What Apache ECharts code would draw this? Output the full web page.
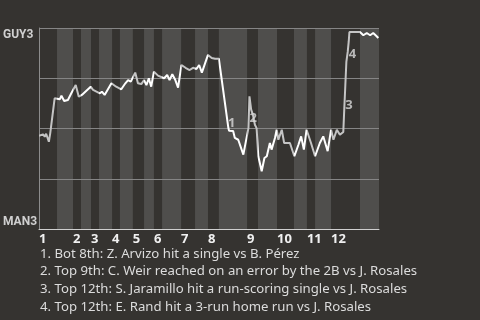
<!DOCTYPE html>
<html>
<head>
<meta charset="utf-8">
<script src="https://cdn.jsdelivr.net/npm/echarts@6/dist/echarts.min.js"></script>
<style>html,body{margin:0;padding:0;background:#353330;}#c{width:480px;height:320px;}</style>
</head>
<body>
<div id="c"></div>
<script>
// Team labels
const teamTop = 'GUY3';
const teamBottom = 'MAN3';
// Inning labels and half-inning boundaries (game progress, 0..100)
const innings = ['1','2','3','4','5','6','7','8','9','10','11','12'];
const topStart = [0, 10.0, 15.3, 21.5, 27.6, 33.8, 41.8, 49.7, 61.2, 70.0, 78.8, 85.9];
const botStart = [5.3, 12.35, 17.65, 23.8, 30.9, 36.2, 45.9, 52.9, 64.4, 75.0, 81.2, 94.4];
const gameEnd = 100;
// Win probability (% toward GUY3) by game progress
const wpX = [0, 1.2, 1.7, 2.1, 2.9, 3.3, 4.6, 5.1, 6.1, 6.6, 7.4, 8.5, 9.5, 10.8, 11.7, 12.6, 15.2, 15.9, 17.9, 18.5, 19.3, 21.3, 22.7, 24.2, 25.4, 26.2, 27.0, 28.3, 29.1, 30.1, 30.9, 31.6, 32.3, 33.0, 33.8, 35.0, 36.8, 37.7, 38.4, 39.2, 40.1, 40.9, 41.9, 43.1, 44.3, 45.3, 46.3, 47.1, 47.9, 49.7, 50.8, 51.8, 52.9, 53.2, 55.7, 55.9, 57.1, 57.6, 58.6, 60.1, 60.6, 61.6, 61.9, 62.4, 62.9, 63.5, 64.0, 64.5, 65.5, 66.3, 67.0, 67.9, 68.4, 69.4, 69.9, 70.4, 71.4, 72.1, 73.8, 75.1, 76.3, 77.1, 77.9, 78.7, 80.0, 81.2, 82.6, 83.6, 84.9, 85.9, 86.6, 87.6, 88.5, 89.5, 89.8, 90.1, 90.4, 90.8, 91.1, 91.3, 94.4, 95.4, 96.4, 97.4, 98.3, 99.3, 99.8];
const wpY = [46.4, 47.1, 45.9, 47.4, 43.4, 47.6, 65.0, 65.3, 64.5, 66.3, 63.7, 64.2, 67.5, 71.6, 65.8, 66.7, 70.8, 69.2, 67.5, 68.3, 66.7, 72.5, 70.8, 69.5, 72.5, 74.1, 73.3, 77.8, 72.5, 72.1, 74.1, 71.6, 75.0, 70.8, 78.3, 76.3, 75.0, 76.6, 74.1, 77.0, 74.1, 70.3, 81.6, 80.2, 79.1, 80.2, 79.6, 81.6, 77.8, 86.6, 85.1, 84.7, 84.7, 83.9, 50.2, 48.9, 48.8, 45.3, 44.4, 37.0, 37.0, 50.2, 66.0, 59.4, 56.9, 51.9, 50.2, 36.2, 28.7, 35.3, 36.2, 42.8, 39.5, 45.3, 49.4, 44.4, 49.4, 42.8, 42.8, 36.2, 41.9, 46.1, 39.5, 49.4, 42.8, 36.2, 42.8, 46.1, 38.7, 49.4, 44.4, 49.4, 46.9, 48.3, 60.2, 71.6, 83.1, 88.1, 93.3, 98.0, 98.0, 96.4, 97.5, 96.4, 97.5, 95.9, 95.0];
// Key events
const eventTags = ['1', '2', '3', '4'];
const eventX = [56.7, 63.0, 91.2, 92.2];
const eventY = [52.7, 54.9, 61.5, 86.8];
const notes = [
  '1. Bot 8th: Z. Arvizo hit a single vs B. Pérez',
  '2. Top 9th: C. Weir reached on an error by the 2B vs J. Rosales',
  '3. Top 12th: S. Jaramillo hit a run-scoring single vs J. Rosales',
  '4. Top 12th: E. Rand hit a 3-run home run vs J. Rosales'
];

const FONT = 'Noto Sans';
const LABEL_FONT = 'Roboto';
const bands = botStart.map((b, i) => [b, i + 1 < topStart.length ? topStart[i + 1] : gameEnd]);
const pieces = [];
topStart.forEach((t, i) => {
  pieces.push({ gte: t, lt: botStart[i], color: '#c4c4c4' });
  pieces.push({ gte: botStart[i], lte: i + 1 < topStart.length ? topStart[i + 1] : gameEnd + 1, color: '#ffffff' });
});

const chart = echarts.init(document.getElementById('c'), null, { renderer: 'canvas' });
chart.setOption({
  animation: false,
  backgroundColor: '#353330',
  textStyle: { fontFamily: FONT },
  title: {
    text: notes.join('\n'),
    left: 40, top: 245, padding: 0,
    textStyle: { color: '#dcdcdc', fontSize: 13.2, fontWeight: 'normal', lineHeight: 17.8, fontFamily: FONT }
  },
  grid: { left: 39, right: 101, top: 28, bottom: 91, containLabel: false, outerBoundsMode: 'none' },
  visualMap: { show: false, type: 'piecewise', dimension: 0, seriesIndex: 1, pieces: pieces },
  xAxis: {
    type: 'value', min: 0, max: gameEnd, z: 2,
    splitLine: { show: false },
    axisTick: { show: false },
    axisLine: { lineStyle: { color: '#cfcfcf', width: 1 } },
    axisLabel: {
      customValues: topStart,
      formatter: v => innings[topStart.indexOf(v)] || '',
      align: 'left', margin: 4, color: '#f0f0f0', fontSize: 13, fontWeight: 'bold', fontFamily: FONT
    }
  },
  yAxis: {
    type: 'value', min: 0, max: 100, interval: 25, z: 2,
    axisLine: { show: true, lineStyle: { color: '#8c8c8c' } },
    axisTick: { show: false },
    splitLine: { lineStyle: { color: '#858585', width: 1 } },
    axisLabel: {
      align: 'left', margin: 36, color: '#d0d0d0', fontSize: 12, fontWeight: 'bold', fontFamily: LABEL_FONT,
      formatter: v => v === 100 ? '{t|' + teamTop + '}' : (v === 0 ? '{b|' + teamBottom + '}' : ''),
      rich: {
        t: { padding: [14, 0, 0, 0], color: '#d0d0d0', fontSize: 12, fontWeight: 'bold', fontFamily: LABEL_FONT },
        b: { padding: [0, 0, 15, 0], color: '#d0d0d0', fontSize: 12, fontWeight: 'bold', fontFamily: LABEL_FONT }
      }
    }
  },
  series: [
    {
      type: 'custom', z: 1, silent: true,
      data: bands,
      renderItem: (params, api) => {
        const p0 = api.coord([api.value(0), 100]);
        const p1 = api.coord([api.value(1), 0]);
        return { type: 'rect', shape: { x: p0[0], y: p0[1], width: p1[0] - p0[0], height: p1[1] - p0[1] }, style: { fill: '#4f4e4c' } };
      }
    },
    {
      type: 'line', z: 3, symbol: 'none', smooth: false,
      data: wpX.map((x, i) => [x, wpY[i]]),
      lineStyle: { width: 2 }
    },
    {
      type: 'scatter', z: 4, symbolSize: 1,
      itemStyle: { color: 'rgba(0,0,0,0)' },
      data: eventX.map((x, i) => [x, eventY[i]]),
      label: {
        show: true, position: 'inside', formatter: p => eventTags[p.dataIndex],
        color: '#dadada', fontSize: 13, fontWeight: 'bold', fontFamily: FONT
      }
    }
  ]
});
</script>
</body>
</html>
